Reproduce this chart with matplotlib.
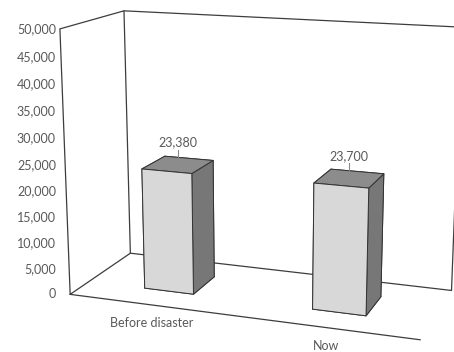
import numpy as np
import matplotlib
matplotlib.use("Agg")
import matplotlib.pyplot as plt
from matplotlib.lines import Line2D

# Chart data
categories = ["Before disaster", "Now"]
values = [23380, 23700]
value_labels = ["23,380", "23,700"]
tick_values = [0, 5000, 10000, 15000, 20000, 25000, 30000, 35000, 40000, 45000, 50000]
tick_labels = ["0", "5,000", "10,000", "15,000", "20,000", "25,000",
               "30,000", "35,000", "40,000", "45,000", "50,000"]

plt.rcParams["font.family"] = ["Lato", "DejaVu Sans"]

FIG_W, FIG_H = 454, 352
TEXT = "#595959"
FRAME = "#3d3d3d"
FONT = 9

fig = plt.figure(figsize=(FIG_W / 100, FIG_H / 100), dpi=100)
fig.patch.set_facecolor("white")

# square 3D axes (pixels), larger than the canvas so the box fills it
side = 463.0
left, bottom = 23.9, -49.4
ax = fig.add_axes([left / FIG_W, bottom / FIG_H, side / FIG_W, side / FIG_H],
                  projection="3d")
ax.set_proj_type("persp", focal_length=0.5145)
ax.view_init(elev=14.19, azim=-70.3)
ax.set_box_aspect((1.0, 0.3922, 0.7479))

x0, x1 = 0, len(categories)
y0, y1 = 0.0, 1.0
z0, z1 = tick_values[0], tick_values[-1]
ax.set_xlim(x0, x1)
ax.set_ylim(y0, y1)
ax.set_zlim(z0, z1)

for axis in (ax.xaxis, ax.yaxis, ax.zaxis):
    axis.set_pane_color((1, 1, 1, 0))
    axis.line.set_color((1, 1, 1, 0))
    axis.set_ticks([])
ax.grid(False)

# walls and floor outline
line_kw = dict(color=FRAME, lw=0.9, solid_capstyle="round")
ax.plot([x0, x0, x0, x0, x0], [y0, y0, y1, y1, y0], [z0, z1, z1, z0, z0], **line_kw)
ax.plot([x0, x1, x1, x0], [y1, y1, y1, y1], [z1, z1, z0, z0], **line_kw)
ax.plot([x0, x1], [y0, y0], [z0, z0], **line_kw)

# columns
bar_w = 0.30
d0, d1 = 0.3, 0.7
xs = np.arange(len(values)) + 0.5 - bar_w / 2
# face order: bottom, top, front, back, left, right
faces = ["#9a9a9a", "#8c8c8c", "#d8d8d8", "#9a9a9a", "#777777", "#777777"]
ax.bar3d(xs, np.full(len(values), d0), np.zeros(len(values)),
         bar_w, d1 - d0, values, color=faces * len(values), shade=False,
         edgecolor="#333333", linewidth=0.7)

fig.canvas.draw()
M = ax.get_proj()


def to_px(x, y, z):
    v = M @ np.array([x, y, z, 1.0])
    return ax.transData.transform((v[0] / v[3], v[1] / v[3]))


def fig_text(px, py, s, **kw):
    fig.text(px / FIG_W, py / FIG_H, s, fontsize=FONT, color=TEXT, **kw)


# value axis labels, right-aligned left of the wall
right_x = to_px(x0, y0, z1)[0] - 4
for v, lab in zip(tick_values, tick_labels):
    fig_text(right_x, to_px(x0, y0, v)[1], lab, ha="right", va="center")

# category labels below the front edge
for i, cat in enumerate(categories):
    px, py = to_px(i + 0.5, y0, z0)
    fig_text(px, py - 18, cat, ha="center", va="center")

# value labels with short leader lines
for i, (v, lab) in enumerate(zip(values, value_labels)):
    px, py = to_px(i + 0.5, (d0 + d1) / 2, v)
    fig_text(px, py + 22, lab, ha="center", va="center")
    fig.add_artist(Line2D([px / FIG_W, px / FIG_W],
                          [(py + 7) / FIG_H, (py + 15) / FIG_H],
                          color="#8a8a8a", lw=0.8))

fig.savefig("out.png", dpi=100, facecolor="white")
